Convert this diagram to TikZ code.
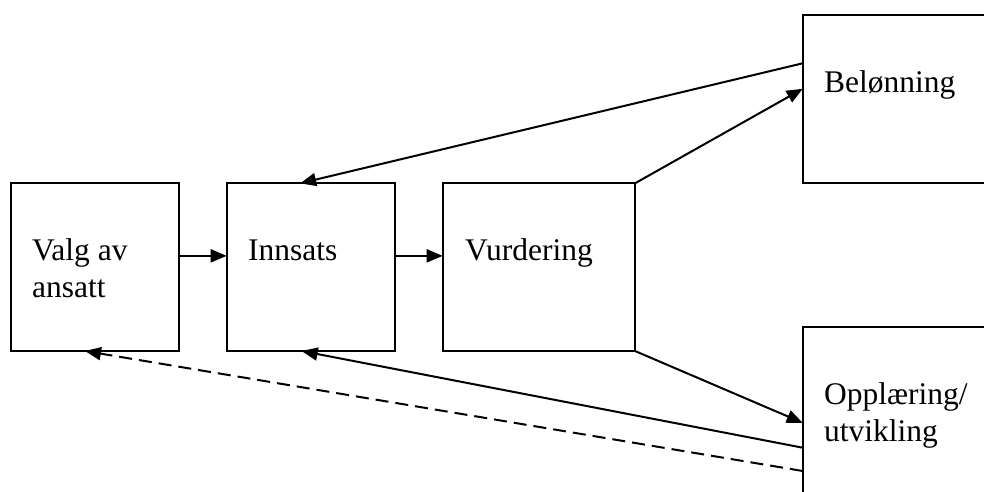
\documentclass[tikz,border=0pt]{standalone}
\usepackage{fontspec}
\setmainfont{Liberation Serif}
\usetikzlibrary{arrows.meta}
\begin{document}
\begin{tikzpicture}[x=1pt,y=-1pt,
  box/.style={draw,line width=2pt,inner sep=0pt,outer sep=0pt,anchor=north west},
  lbl/.style={inner sep=0pt,anchor=base west,align=left,font=\fontsize{31.5}{37}\selectfont},
  conn/.style={line width=2pt,-{Triangle[length=16pt,width=13pt]}},
  dconn/.style={conn,dash pattern=on 13pt off 7pt}]
\useasboundingbox (0,0) rectangle (984,491);
\clip (0,0) rectangle (984,491);
\node[box,minimum width=168.3pt,minimum height=167.7pt] (valg) at (10.7,183.3) {};
\node[box,minimum width=168.3pt,minimum height=167.7pt] (inn) at (226.7,183.3) {};
\node[box,minimum width=192.3pt,minimum height=167.7pt] (vur) at (442.7,183.3) {};
\node[box,minimum width=220pt,minimum height=167.7pt] (bel) at (802.7,15.3) {};
\node[box,minimum width=220pt,minimum height=200pt] (opp) at (802.7,327.3) {};
\node[lbl] (tvalg) at (32,297.5) {Valg av\\ansatt};
\node[lbl] (tinn) at (248,260.5) {Innsats};
\node[lbl] (tvur) at (465,260.5) {Vurdering};
\node[lbl] (tbel) at (824,92) {Belønning};
\node[lbl] (topp) at (824,441) {Opplæring/\\utvikling};
\draw[conn] ([yshift=11.3pt]valg.east) -- ([yshift=11.3pt]inn.west);
\draw[conn] ([yshift=11.3pt]inn.east) -- ([yshift=11.3pt]vur.west);
\draw[conn] (vur.north east) -- ([yshift=-73.5pt]bel.north west);
\draw[conn] (vur.south east) -- ([yshift=-95.5pt]opp.north west);
\draw[conn] ([yshift=-48pt]bel.north west) -- ([xshift=73.5pt]inn.north west);
\draw[conn] ([yshift=-120.4pt]opp.north west) -- ([xshift=75pt]inn.south west);
\draw[dconn] ([yshift=-143.7pt]opp.north west) -- ([xshift=74.3pt]valg.south west);
\end{tikzpicture}
\end{document}
